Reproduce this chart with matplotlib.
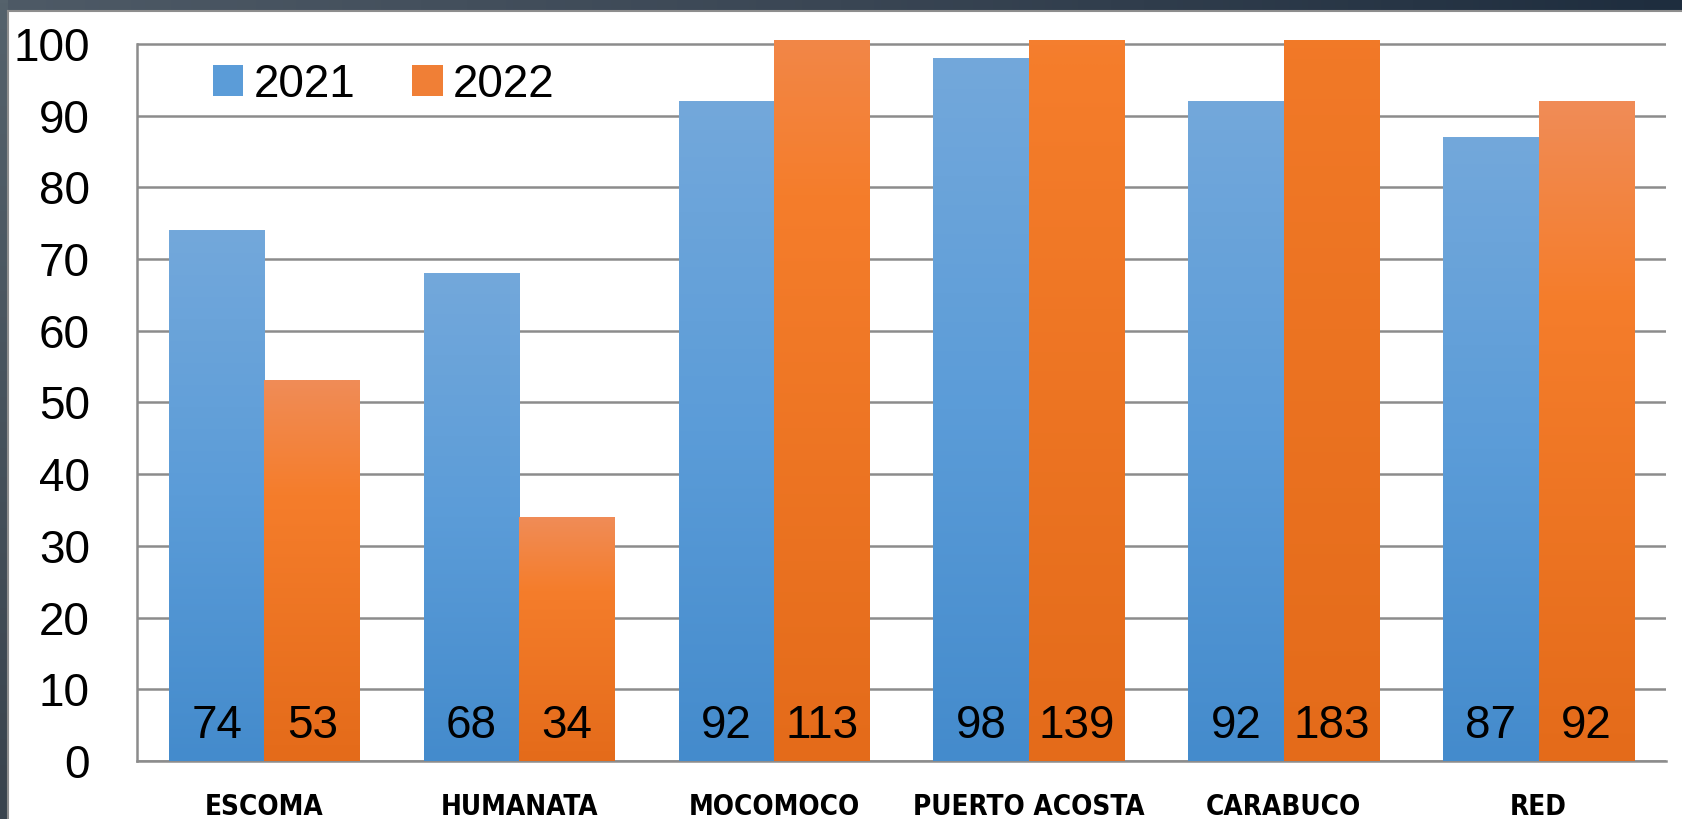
import numpy as np
import matplotlib
matplotlib.use("Agg")
import matplotlib.pyplot as plt
from matplotlib.colors import LinearSegmentedColormap
from matplotlib.patches import Patch, Rectangle

plt.rcParams['font.family'] = ['Liberation Sans', 'DejaVu Sans']

categories = ["ESCOMA", "HUMANATA", "MOCOMOCO", "PUERTO ACOSTA", "CARABUCO", "RED"]
series_names = ["2021", "2022"]
values_2021 = [74, 68, 92, 98, 92, 87]
values_2022 = [53, 34, 113, 139, 183, 92]
y_ticks = [0, 10, 20, 30, 40, 50, 60, 70, 80, 90, 100]

# gradient stops, top of bar -> bottom of bar
blue_cmap = LinearSegmentedColormap.from_list(
    "blue", [(0.0, "#73A8DB"), (0.5, "#5B9CD8"), (1.0, "#448BCC")])
orange_cmap = LinearSegmentedColormap.from_list(
    "orange", [(0.0, "#F08C57"), (0.3, "#F57D2B"), (1.0, "#E46B1A")])

W, H = 1683, 819
fig = plt.figure(figsize=(W / 100, H / 100), dpi=100)

# slide frame around the chart
bg = fig.add_axes([0, 0, 1, 1], zorder=-10)
bg.axis("off")
band = np.linspace(0, 1, 256).reshape(1, -1)
band_cmap = LinearSegmentedColormap.from_list("band", ["#4E5A66", "#3A4654", "#1E2D3E"])
bg.imshow(band, cmap=band_cmap, extent=[0, W, 10, 0], aspect="auto")
side_cmap = LinearSegmentedColormap.from_list("side", ["#55626C", "#39434D"])
bg.imshow(np.linspace(0, 1, 256).reshape(-1, 1), cmap=side_cmap,
          extent=[0, 8, H, 0], aspect="auto")
bg.add_patch(Rectangle((8, 11), W - 8, H - 11, facecolor="white", edgecolor="none"))
bg.plot([8, W], [11, 11], color="#8E8E8E", lw=1.5)
bg.plot([8, 8], [11, H], color="#8E8E8E", lw=1.5)
bg.set_xlim(0, W)
bg.set_ylim(H, 0)

ax = fig.add_axes([137 / W, 1 - 761 / H, (1666 - 137) / W, (761 - 40.4) / H])
ax.set_facecolor("none")

x = np.arange(len(categories))
bw = 0.375
ymax = 100.5


def gradient_bar(xc, val, cmap):
    grad = np.linspace(0, 1, 256).reshape(-1, 1)
    ax.imshow(grad, cmap=cmap, extent=[xc - bw / 2, xc + bw / 2, 0, val],
              aspect="auto", interpolation="bilinear", zorder=3, origin="upper")


for i in range(len(categories)):
    gradient_bar(x[i] - bw / 2, values_2021[i], blue_cmap)
    gradient_bar(x[i] + bw / 2, values_2022[i], orange_cmap)
    ax.text(x[i] - bw / 2, 3.2, str(values_2021[i]), ha="center", va="baseline",
            fontsize=33, color="black", zorder=5)
    ax.text(x[i] + bw / 2, 3.2, str(values_2022[i]), ha="center", va="baseline",
            fontsize=33, color="black", zorder=5)

ax.set_xlim(-0.5, len(categories) - 0.5)
ax.set_ylim(0, ymax)
ax.set_yticks(y_ticks)
ax.set_yticklabels([str(t) for t in y_ticks], fontsize=33)
ax.tick_params(axis="y", length=0, pad=34)
ax.set_xticks(x)
ax.set_xticklabels([])
ax.tick_params(axis="x", length=0)
for i, c in enumerate(categories):
    ax.text(x[i], -6.4, c, ha="center", va="center", fontsize=20, fontweight="bold",
            family=["DejaVu Sans"], fontstretch="condensed", clip_on=False)

ax.grid(axis="y", color="#8C8C8C", lw=1.8, zorder=1)
for s in ["top", "right"]:
    ax.spines[s].set_visible(False)
ax.spines["left"].set_color("#8C8C8C")
ax.spines["left"].set_linewidth(1.8)
ax.spines["bottom"].set_color("#8C8C8C")
ax.spines["bottom"].set_linewidth(1.8)
ax.spines["left"].set_bounds(0, 100)

handles = [Patch(facecolor="#5B9CD8", edgecolor="none"),
           Patch(facecolor="#F07F36", edgecolor="none")]
fig.legend(handles, series_names, loc="center left",
           bbox_to_anchor=(213 / W, 1 - 85 / H), ncol=2, frameon=False,
           fontsize=33, handlelength=0.66, handleheight=0.66,
           handletextpad=0.22, columnspacing=1.25, borderpad=0, borderaxespad=0)

fig.savefig("out.png", dpi=100)
